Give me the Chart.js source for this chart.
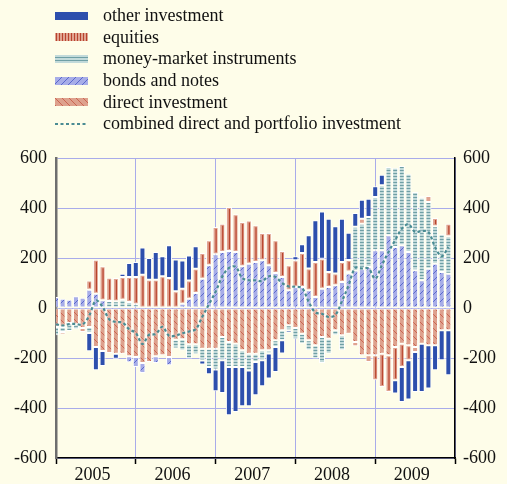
<!DOCTYPE html>
<html>
<head>
<meta charset="utf-8">
<script src="https://cdn.jsdelivr.net/npm/chart.js@4.4.1/dist/chart.umd.min.js"></script>
<style>
  html, body { margin: 0; padding: 0; background: #fefde9; }
  #wrap { position: relative; width: 507px; height: 484px; }
  #legend { position: absolute; left: 55px; top: 5px; font-family: 'Liberation Serif', 'Times New Roman', serif; font-size: 18px; color: #111; }
  .item { display: flex; align-items: center; height: 21.6px; white-space: nowrap; }
  .item canvas { width: 33px; height: 8px; margin-right: 15px; }
</style>
</head>
<body>
<div id="wrap">
  <canvas id="chart" width="507" height="484"></canvas>
  <div id="legend"></div>
</div>
<script>
// 12-month cumulated flows, monthly, Jan 2005 - Dec 2009
const years = ['2005', '2006', '2007', '2008', '2009'];

const directInvestment = [
  -76, -76, -60, -65, -80, -76, -156, -172, -180, -183, -183, -193,
  -196, -220, -216, -193, -189, -196, -127, -125, -145, -145, -163, -163,
  -163, -116, -136, -143, -169, -183, -183, -169, -169, -129, -89, -69,
  -80, -103, -129, -149, -116, -123, -89, -109, -103, -136, -189, -189,
  -189, -183, -189, -156, -143, -149, -156, -143, -149, -149, -89, -89
];
const bondsNotes = [
  44, 37, 33, 47, 41, 73, 57, 31, null, null, null, -24,
  -40, -40, null, -27, null, -33, null, 17, 37, 60, 117, 171,
  215, 224, 228, 224, 167, 177, 184, 191, 171, 140, 124, 71,
  84, 84, 71, 44, 77, 84, 91, 104, 138, 150, 157, 164,
  231, 231, 291, 244, 251, 224, 151, 111, 157, 177, 144, 137
];
const moneyMarket = [
  -33, -20, -32, -20, null, -24, null, null, 28, 27, 33, 24,
  15, null, null, null, null, null, -35, -45, -57, -40, -47, -73,
  -83, -93, -100, -93, -67, -67, -33, -40, -13, -27, -40, -20,
  -45, -40, -40, -53, -104, -60, -20, -60, 8, 175, 180, 200,
  213, 260, 273, 317, 317, 313, 313, 330, 267, 150, 151, 150
];
const equities = [
  null, -10, null, null, -16, 37, 136, 136, 93, 93, 91, 100,
  109, 133, 113, 113, 127, 120, 67, 60, 73, 97, 103, 100,
  109, 113, 176, 151, 177, 173, 147, 109, 129, 131, 104, 100,
  107, 136, 87, 140, 120, 60, 47, 80, 46, -17, 20, -27,
  -100, -133, -147, -133, -93, -60, -20, 6, 24, 33, null, 50
];
const otherInvestment = [
  null, null, null, null, null, -73, -93, -60, null, -20, 13, 56,
  60, 109, 87, 111, 80, 131, 127, 113, 100, 90, -16, -29,
  -87, -131, -193, -180, -157, -143, -133, -104, -100, -100, -53, -10,
  16, 35, 133, 167, 189, 213, 189, 173, 109, 55, 76, 73,
  43, 42, null, -53, -140, -157, -160, -193, -173, -100, -120, -180
];
const combined = [
  -65, -70, -64, -64, -66, -30, 30, 5, -45, -56, -58, -85,
  -100, -144, -107, -104, -75, -111, -111, -101, -94, -85, -35, 15,
  65, 125, 160, 165, 120, 111, 111, 108, 127, 124, 100, 86,
  85, 80, 25, -18, -23, -36, -28, 27, 91, 160, 158, 158,
  117, 171, 224, 271, 317, 335, 304, 308, 304, 244, 207, 244
];

// one label per month plus Jan 2010 so the axis ends on a year boundary
const labels = [];
years.forEach(y => { for (let m = 1; m <= 12; m++) labels.push(y + '-' + m); });
labels.push('2010-1');

const GRID = '#a9acea';
const SERIF = "'Liberation Serif', 'Times New Roman', serif";

function makePattern(w, h, draw) {
  const c = document.createElement('canvas');
  c.width = w; c.height = h;
  draw(c.getContext('2d'), w, h);
  return c;
}

const directTile = makePattern(7, 7, (g, w, h) => {
  g.fillStyle = '#dea18d'; g.fillRect(0, 0, w, h);
  g.strokeStyle = 'rgba(192,72,52,0.75)'; g.lineWidth = 0.9;
  g.beginPath(); g.moveTo(0, 0); g.lineTo(w, h); g.stroke();
});
const bondsTile = makePattern(7, 7, (g, w, h) => {
  g.fillStyle = '#a7ade8'; g.fillRect(0, 0, w, h);
  g.strokeStyle = 'rgba(62,78,192,0.8)'; g.lineWidth = 0.9;
  g.beginPath(); g.moveTo(0, h); g.lineTo(w, 0); g.stroke();
});
const mmTile = makePattern(4, 3, (g, w, h) => {
  g.fillStyle = '#c2dada'; g.fillRect(0, 0, w, h);
  g.fillStyle = '#6f9fa5'; g.fillRect(0, 2, w, 1);
});
const equitiesTile = makePattern(3, 4, (g, w, h) => {
  g.fillStyle = '#e0a390'; g.fillRect(0, 0, w, h);
  g.fillStyle = '#b8432d'; g.fillRect(1, 0, 1, h);
});

const canvas = document.getElementById('chart');
const ctx = canvas.getContext('2d');
const patDirect = ctx.createPattern(directTile, 'repeat');
const patBonds = ctx.createPattern(bondsTile, 'repeat');
const patMM = ctx.createPattern(mmTile, 'repeat');

const OTHER = '#2d4fad';
const EQUITY = '#e0a390';
const LINE = '#4a8c93';

// red centre stroke on each equities bar
const equityLines = {
  id: 'equityLines',
  afterDatasetDraw(chart, args) {
    if (args.index !== 3) return;
    const { ctx, chartArea } = chart;
    ctx.save();
    ctx.beginPath();
    ctx.rect(chartArea.left, chartArea.top, chartArea.width, chartArea.height);
    ctx.clip();
    ctx.strokeStyle = '#b8432d';
    ctx.lineWidth = 1.2;
    args.meta.data.forEach(bar => {
      if (isNaN(bar.y) || isNaN(bar.base)) return;
      const top = Math.min(bar.y, bar.base), bot = Math.max(bar.y, bar.base);
      if (bot - top < 7) return;
      ctx.beginPath();
      ctx.moveTo(bar.x + 0.5, top + 2);
      ctx.lineTo(bar.x + 0.5, bot - 2);
      ctx.stroke();
    });
    ctx.restore();
  }
};

// soft white halo under the dashed line
const lineHalo = {
  id: 'lineHalo',
  beforeDatasetDraw(chart, args) {
    if (args.meta.type !== 'line') return;
    chart.ctx.save();
    chart.ctx.shadowColor = 'rgba(255,255,255,0.95)';
    chart.ctx.shadowBlur = 3;
  },
  afterDatasetDraw(chart, args) {
    if (args.meta.type !== 'line') return;
    chart.ctx.restore();
  }
};

Chart.defaults.font.family = SERIF;
Chart.defaults.font.size = 18;
Chart.defaults.color = '#111';

new Chart(ctx, {
  type: 'bar',
  data: {
    labels: labels,
    datasets: [
      { label: 'direct investment', data: directInvestment, backgroundColor: patDirect, order: 1 },
      { label: 'bonds and notes', data: bondsNotes, backgroundColor: patBonds, order: 1 },
      { label: 'money-market instruments', data: moneyMarket, backgroundColor: patMM, order: 1 },
      { label: 'equities', data: equities, backgroundColor: EQUITY, order: 1 },
      { label: 'other investment', data: otherInvestment, backgroundColor: OTHER, order: 1 },
      {
        type: 'line',
        label: 'combined direct and portfolio investment',
        data: combined,
        yAxisID: 'y2',
        borderColor: LINE,
        borderWidth: 2.2,
        borderDash: [3, 2.5],
        pointRadius: 0,
        tension: 0.35,
        fill: false,
        order: 0
      }
    ]
  },
  options: {
    responsive: false,
    animation: false,
    devicePixelRatio: 1,
    layout: { padding: { top: 158, left: 0, right: 0, bottom: 0 } },
    plugins: { legend: { display: false }, tooltip: { enabled: false } },
    datasets: {
      bar: {
        barPercentage: 0.9,
        categoryPercentage: 1,
        borderColor: '#ffffff',
        borderWidth: 1,
        borderSkipped: false
      }
    },
    scales: {
      x: {
        stacked: true,
        offset: false,
        grid: {
          offset: false,
          color: c => (c.index % 12 === 0 ? GRID : 'rgba(0,0,0,0)'),
          tickColor: c => (c.index % 12 === 0 ? '#000' : 'rgba(0,0,0,0)'),
          tickLength: 6,
          tickWidth: 1.5
        },
        border: { color: '#000', width: 1.5 },
        ticks: {
          autoSkip: false,
          maxRotation: 0,
          padding: 0,
          labelOffset: -3.3,
          color: '#111',
          callback: (v, i) => (i % 12 === 6 ? years[Math.floor(i / 12)] : '')
        },
        afterFit: s => { s.height = 26; }
      },
      y: {
        stacked: true,
        min: -600,
        max: 600,
        ticks: { stepSize: 200, padding: 9, color: '#111' },
        grid: { color: GRID, drawTicks: false },
        border: { color: '#6e6e6e', width: 2.5 },
        afterFit: s => { s.width = 56; }
      },
      y2: {
        position: 'right',
        min: -600,
        max: 600,
        ticks: { stepSize: 200, padding: 8, color: '#111' },
        grid: { drawOnChartArea: false, drawTicks: false },
        border: { color: '#000', width: 1.5 },
        afterFit: s => { s.width = 52; }
      }
    }
  },
  plugins: [equityLines, lineHalo]
});

// legend, in the order of the reference
const legendItems = [
  { text: 'other investment', fill: OTHER },
  { text: 'equities', tile: equitiesTile },
  { text: 'money-market instruments', tile: mmTile },
  { text: 'bonds and notes', tile: bondsTile },
  { text: 'direct investment', tile: directTile },
  { text: 'combined direct and portfolio investment', line: LINE }
];
const legend = document.getElementById('legend');
legendItems.forEach(it => {
  const row = document.createElement('div');
  row.className = 'item';
  const sw = document.createElement('canvas');
  sw.width = 33; sw.height = 8;
  const g = sw.getContext('2d');
  if (it.fill) {
    g.fillStyle = it.fill; g.fillRect(0, 0, 33, 8);
  } else if (it.tile) {
    g.fillStyle = g.createPattern(it.tile, 'repeat'); g.fillRect(0, 0, 33, 8);
  } else {
    g.strokeStyle = it.line; g.lineWidth = 2; g.setLineDash([3, 2.5]);
    g.beginPath(); g.moveTo(0, 4); g.lineTo(33, 4); g.stroke();
  }
  const span = document.createElement('span');
  span.textContent = it.text;
  row.appendChild(sw);
  row.appendChild(span);
  legend.appendChild(row);
});
</script>
</body>
</html>
